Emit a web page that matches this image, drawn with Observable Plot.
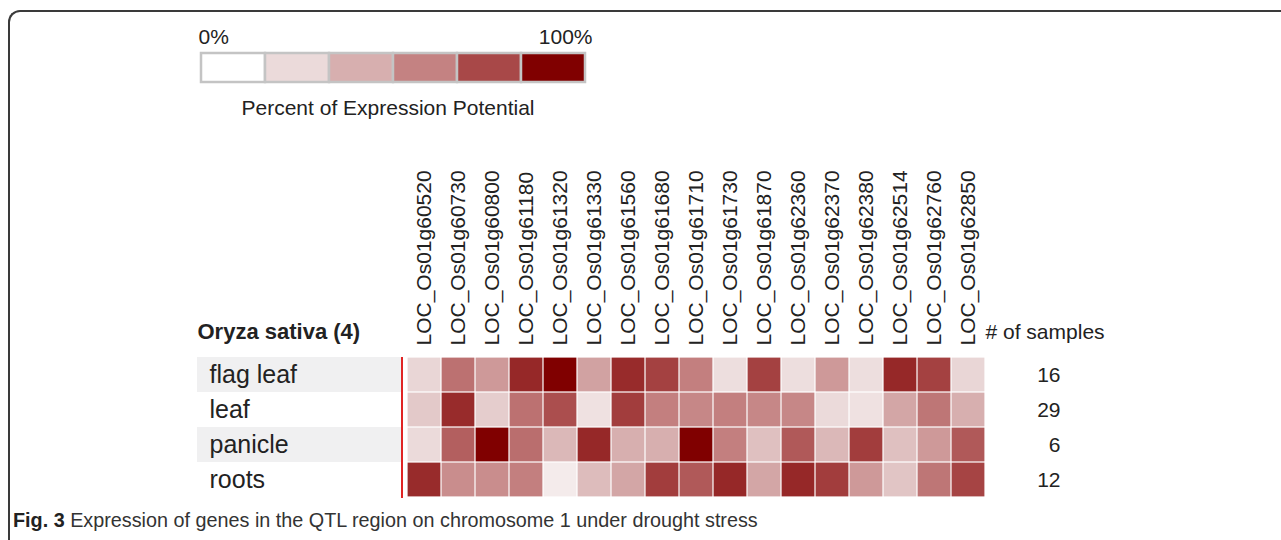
<!DOCTYPE html>
<html><head><meta charset="utf-8">
<script src="https://cdn.jsdelivr.net/npm/d3@7"></script>
<script src="https://cdn.jsdelivr.net/npm/@observablehq/plot@0.6"></script>
<style>
html,body{margin:0;padding:0;background:#fff;}
body{width:1281px;height:540px;position:relative;overflow:hidden;font-family:"Liberation Sans",Arial,sans-serif;}
#frame{position:absolute;left:8px;top:10px;width:1300px;height:560px;border-left:2px solid #3a3a3a;border-top:2px solid #3a3a3a;border-top-left-radius:12px;box-sizing:border-box;}
#legend{position:absolute;left:0;top:0;}
#chart{position:absolute;left:0;top:130px;}
#caption{position:absolute;left:13px;top:508px;font-size:19.8px;line-height:24px;color:#333;white-space:nowrap;}
#caption b{color:#222;}
</style></head>
<body>
<div id="frame"></div>
<div id="legend"></div>
<div id="chart"></div>
<div id="caption"><b>Fig. 3</b> Expression of genes in the QTL region on chromosome 1 under drought stress</div>
<script>
const genes = ["LOC_Os01g60520","LOC_Os01g60730","LOC_Os01g60800","LOC_Os01g61180","LOC_Os01g61320","LOC_Os01g61330","LOC_Os01g61560","LOC_Os01g61680","LOC_Os01g61710","LOC_Os01g61730","LOC_Os01g61870","LOC_Os01g62360","LOC_Os01g62370","LOC_Os01g62380","LOC_Os01g62514","LOC_Os01g62760","LOC_Os01g62850"];
const tissues = ["flag leaf","leaf","panicle","roots"];
const samples = [16,29,6,12];
const flagLeaf = [22,66,50,89,100,46,88,82,61,18,82,18,50,18,89,82,22];
const leaf     = [28,88,26,66,78,16,83,61,58,61,58,58,20,16,44,64,40];
const panicle  = [20,72,100,67,36,89,40,40,100,61,32,74,36,83,32,50,74];
const roots    = [88,55,55,61,11,34,44,83,74,89,44,89,83,50,30,64,81];
const legendLevels = [0,20,40,60,80,100];
const colorRange = ["#ffffff","#ebdada","#d7afaf","#c48282","#a84848","#800000"];
const legendTicks = ["0%","100%"];
const legendTitle = "Percent of Expression Potential";
const speciesTitle = "Oryza sativa (4)";
const samplesTitle = "# of samples";

const rows = [flagLeaf, leaf, panicle, roots];
const table = tissues.flatMap((t, i) => genes.map((g, j) => ({tissue: t, gene: g, value: rows[i][j]})));
const FONT = '"Liberation Sans", Arial, sans-serif';

function bandOf(scale, n, span) {
  return scale.bandwidth ? scale.bandwidth() : span / n;
}
function rowBands(index, scales, values, dims) {
  const y = scales.y;
  const bw = bandOf(y, tissues.length, dims.height - dims.marginTop - dims.marginBottom);
  const g = d3.create("svg:g");
  tissues.forEach((t, i) => {
    if (i % 2 === 0) g.append("rect").attr("x", dims.marginLeft - 204).attr("y", y(t))
      .attr("width", 204).attr("height", bw).attr("fill", "#f0f0f1");
  });
  return g.node();
}
function redEdge(index, scales, values, dims) {
  const y = scales.y;
  const bw = bandOf(y, tissues.length, dims.height - dims.marginTop - dims.marginBottom);
  return d3.create("svg:line").attr("x1", dims.marginLeft + 1).attr("x2", dims.marginLeft + 1)
    .attr("y1", y(tissues[0])).attr("y2", y(tissues[tissues.length - 1]) + bw + 1)
    .attr("stroke", "#e02424").attr("stroke-width", 2).node();
}

const legend = Plot.plot({
  width: 640, height: 125,
  marginLeft: 198, marginRight: 53, marginTop: 53, marginBottom: 43,
  style: {fontFamily: FONT, fontSize: "21px", color: "#222", background: "transparent"},
  x: {type: "band", domain: legendLevels, axis: null, padding: 0},
  y: {axis: null},
  color: {type: "linear", domain: legendLevels, range: colorRange},
  marks: [
    Plot.cell(legendLevels, {x: d => d, fill: d => d, stroke: "#c4c4c4", strokeWidth: 2.5}),
    Plot.text([legendTicks[0]], {frameAnchor: "top-left", lineAnchor: "middle", textAnchor: "start", dy: -16, fill: "#222"}),
    Plot.text([legendTicks[1]], {frameAnchor: "top-right", lineAnchor: "middle", textAnchor: "end", dx: 5, dy: -16, fill: "#222"}),
    Plot.text([legendTitle], {frameAnchor: "bottom", lineAnchor: "middle", dx: -5, dy: 26, fill: "#222"})
  ]
});
document.getElementById("legend").appendChild(legend);

const chart = Plot.plot({
  width: 1281, height: 380,
  marginLeft: 401, marginRight: 290, marginTop: 227, marginBottom: 13,
  style: {fontFamily: FONT, fontSize: "21px", color: "#222", background: "transparent"},
  x: {domain: genes, axis: "top", tickSize: 0, tickPadding: 12, tickRotate: -90, label: null, padding: 0},
  y: {domain: tissues, axis: null, padding: 0},
  color: {type: "linear", domain: legendLevels, range: colorRange},
  marks: [
    rowBands,
    Plot.cell(table, {x: "gene", y: "tissue", fill: "value", inset: 0.6}),
    Plot.text(tissues, {y: d => d, frameAnchor: "left", textAnchor: "start", dx: -192, fontSize: 25, fill: "#222"}),
    Plot.text(tissues, {y: d => d, text: (d, i) => String(samples[i]), frameAnchor: "right", textAnchor: "end", dx: 69, fill: "#222"}),
    Plot.text([speciesTitle], {frameAnchor: "top-left", lineAnchor: "middle", textAnchor: "start", dx: -204, dy: -26, fontWeight: "bold", fontSize: 22, fill: "#222"}),
    Plot.text([samplesTitle], {frameAnchor: "top-right", lineAnchor: "middle", textAnchor: "start", dx: -6, dy: -25, fill: "#222"}),
    redEdge
  ]
});
document.getElementById("chart").appendChild(chart);
</script>
</body></html>
